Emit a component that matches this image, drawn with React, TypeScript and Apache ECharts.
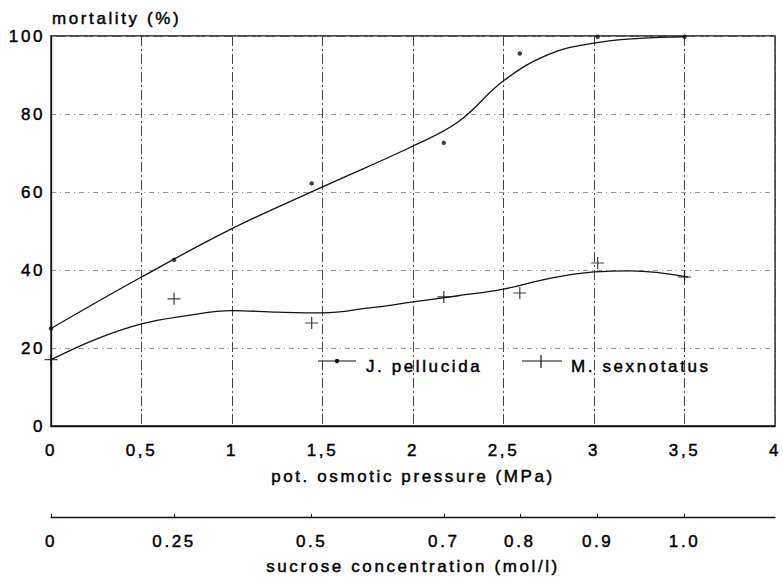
import React, { useEffect, useRef } from 'react';
import * as echarts from 'echarts';

// pressure axis ticks (MPa)
const pressureMin = 0;
const pressureMax = 4;
const pressureStep = 0.5;
const mortalityTicks = [0, 20, 40, 60, 80, 100];

// secondary axis: sucrose concentration labels and their position on the pressure scale
const sucroseLabels = ['0', '0.25', '0.5', '0.7', '0.8', '0.9', '1.0'];
const sucroseAtPressure = [0, 0.68, 1.44, 2.17, 2.59, 3.02, 3.5];

// measured points
const pellucidaX = [0, 0.68, 1.44, 2.17, 2.59, 3.02, 3.5];
const pellucidaY = [25, 42.6, 62.2, 72.6, 95.5, 99.8, 99.8];
const sexnotatusX = [0, 0.68, 1.44, 2.17, 2.59, 3.02, 3.5];
const sexnotatusY = [17, 32.6, 26.4, 33.1, 34.1, 41.8, 38.2];

// fitted curves
const pellucidaCurveX = [0, 0.5, 1, 1.5, 2, 2.25, 2.5, 2.75, 3, 3.25, 3.5];
const pellucidaCurveY = [25, 38.2, 50.6, 61.3, 71.8, 78, 88.5, 95.3, 98.2, 99.4, 99.8];
const sexnotatusCurveX = [0, 0.25, 0.5, 0.75, 1, 1.25, 1.5, 1.75, 2, 2.25, 2.5, 2.75, 3, 3.2, 3.52];
const sexnotatusCurveY = [17, 22.3, 26.2, 28.3, 29.6, 29.2, 29, 30.2, 31.8, 33.4, 35.1, 37.8, 39.5, 39.8, 38.2];

const FONT = '"Liberation Sans", Arial, sans-serif';
const INK = '#000';

const zip = (xs: number[], ys: number[]) => xs.map((x, i) => [x, ys[i]]);

export default function App() {
  const ref = useRef<HTMLDivElement>(null);

  useEffect(() => {
    if (!ref.current) return;
    const chart = echarts.init(ref.current, undefined, { renderer: 'svg' });
    const txt = {
      color: INK,
      fontSize: 17,
      fontFamily: FONT,
      textBorderColor: INK,
      textBorderWidth: 0.45,
    };
    const gtxt = {
      fill: INK,
      fontSize: 17,
      fontFamily: FONT,
      stroke: INK,
      lineWidth: 0.45,
      verticalAlign: 'middle',
      align: 'left',
    };
    const option: any = {
      animation: false,
      backgroundColor: '#fff',
      grid: {
        left: 51,
        right: 6,
        top: 36,
        bottom: 156,
        show: true,
        borderColor: '#111',
        borderWidth: 1.3,
        backgroundColor: 'transparent',
      },
      xAxis: [
        {
          type: 'value',
          min: pressureMin,
          max: pressureMax,
          interval: pressureStep,
          position: 'bottom',
          axisLine: { show: true, onZero: false, lineStyle: { color: '#111', width: 1.3 } },
          axisTick: { show: false },
          axisLabel: {
            show: true,
            margin: 16,
            ...txt,
            showMaxLabel: true,
            showMinLabel: true,
            formatter: (v: number) => String(v).replace('.', ','),
          },
          splitLine: {
            show: true,
            lineStyle: { color: '#444', width: 1, type: [10, 3, 2, 3] },
          },
          name: 'pot. osmotic pressure (MPa)',
          nameLocation: 'middle',
          nameGap: 42,
          nameTextStyle: { ...txt },
        },
        {
          type: 'value',
          min: pressureMin,
          max: pressureMax,
          position: 'bottom',
          offset: 91,
          axisLine: { show: true, onZero: false, lineStyle: { color: '#111', width: 1.3 } },
          axisTick: {
            show: true,
            inside: true,
            length: 3,
            customValues: sucroseAtPressure,
            lineStyle: { color: '#111' },
          },
          axisLabel: {
            show: true,
            margin: 16,
            ...txt,
            customValues: sucroseAtPressure,
            formatter: (v: number) => {
              let best = 0;
              sucroseAtPressure.forEach((p, i) => {
                if (Math.abs(p - v) < Math.abs(sucroseAtPressure[best] - v)) best = i;
              });
              return sucroseLabels[best];
            },
          },
          splitLine: { show: false },
          name: 'sucrose concentration (mol/l)',
          nameLocation: 'middle',
          nameGap: 41,
          nameTextStyle: { ...txt },
        },
      ],
      yAxis: {
        type: 'value',
        min: mortalityTicks[0],
        max: mortalityTicks[mortalityTicks.length - 1],
        interval: mortalityTicks[1] - mortalityTicks[0],
        axisLine: { show: true, lineStyle: { color: '#111', width: 1.3 } },
        axisTick: { show: false },
        axisLabel: { margin: 6, ...txt },
        splitLine: {
          show: true,
          lineStyle: { color: '#888', width: 0.9, type: [5, 4, 1, 4] },
        },
      },
      series: [
        {
          name: 'J. pellucida curve',
          type: 'line',
          xAxisIndex: 0,
          data: zip(pellucidaCurveX, pellucidaCurveY),
          smooth: 0.4,
          showSymbol: false,
          symbol: 'none',
          lineStyle: { color: '#111', width: 1.3 },
          z: 3,
        },
        {
          name: 'M. sexnotatus curve',
          type: 'line',
          xAxisIndex: 0,
          data: zip(sexnotatusCurveX, sexnotatusCurveY),
          smooth: 0.4,
          showSymbol: false,
          symbol: 'none',
          lineStyle: { color: '#111', width: 1.3 },
          z: 3,
        },
        {
          name: 'J. pellucida',
          type: 'scatter',
          xAxisIndex: 0,
          data: zip(pellucidaX, pellucidaY),
          symbol: 'circle',
          symbolSize: 4.5,
          itemStyle: { color: '#111' },
          z: 4,
        },
        {
          name: 'M. sexnotatus',
          type: 'scatter',
          xAxisIndex: 0,
          data: zip(sexnotatusX, sexnotatusY),
          symbol: 'path://M6 0L6 12M0 6L12 6',
          symbolSize: [13, 12],
          itemStyle: { color: 'none', borderColor: '#111', borderWidth: 1.2 },
          z: 4,
        },
      ],
      graphic: [
        {
          type: 'text',
          x: 52,
          y: 18,
          style: { text: 'mortality (%)', ...gtxt },
        },
        {
          type: 'line',
          shape: { x1: 318, y1: 361, x2: 356, y2: 361 },
          style: { stroke: '#111', lineWidth: 1.2 },
        },
        {
          type: 'circle',
          shape: { cx: 337, cy: 361, r: 2.2 },
          style: { fill: '#111' },
        },
        {
          type: 'text',
          x: 366,
          y: 366,
          style: { text: 'J. pellucida', ...gtxt },
        },
        {
          type: 'line',
          shape: { x1: 522, y1: 361, x2: 562, y2: 361 },
          style: { stroke: '#111', lineWidth: 1.2 },
        },
        {
          type: 'line',
          shape: { x1: 541, y1: 355, x2: 541, y2: 368 },
          style: { stroke: '#111', lineWidth: 1.2 },
        },
        {
          type: 'text',
          x: 571,
          y: 366,
          style: { text: 'M. sexnotatus', ...gtxt },
        },
      ],
    };
    chart.setOption(option);
    return () => chart.dispose();
  }, []);

  return (
    <div
      ref={ref}
      style={{
        position: 'fixed',
        left: 0,
        top: 0,
        width: 783,
        height: 582,
        background: '#fff',
        letterSpacing: '2.6px',
      }}
    />
  );
}
